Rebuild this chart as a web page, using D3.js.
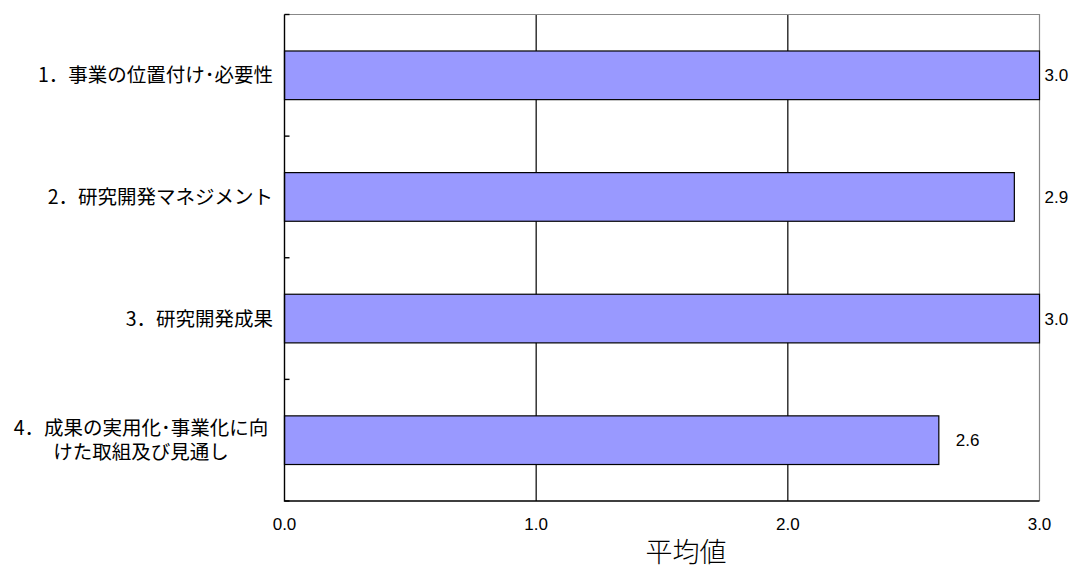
<!DOCTYPE html>
<html><head><meta charset="utf-8">
<script src="https://cdn.jsdelivr.net/npm/d3@7"></script>
<style>body{margin:0;background:#fff}svg{display:block}</style>
</head><body>
<script>
const categories = [
  ["1．事業の位置付け･必要性"],
  ["2．研究開発マネジメント"],
  ["3．研究開発成果"],
  ["4．成果の実用化･事業化に向", "けた取組及び見通し"]
];
const values = [3.0, 2.9, 3.0, 2.6];
const xTicks = [0, 1, 2, 3];
const xTitle = "平均値";

(function () {
const W = 1070, H = 570;
const pL = 284.5, pR = 1039.5, pT = 14.5, pB = 501;
const jp = "'Noto Sans CJK JP','Noto Sans',sans-serif";
const num = "'Liberation Sans',Arial,sans-serif";

const svg = d3.select("body").append("svg").attr("width", W).attr("height", H);
const ids = categories.map((c, i) => i);
const x = d3.scaleLinear().domain([0, 3]).range([pL, pR]);
const y = d3.scaleBand().domain(ids).range([pT, pB]).paddingInner(0.6).paddingOuter(0.3);

// gridlines
svg.append("g").selectAll("line").data(xTicks.filter(t => t > 0 && t < 3)).join("line")
  .attr("x1", d => x(d)).attr("x2", d => x(d)).attr("y1", pT).attr("y2", pB)
  .attr("stroke", "#000").attr("stroke-width", 1.2);

// top & right border (gray)
svg.append("path").attr("d", `M${pL},${pT}H${pR}V${pB}`)
  .attr("fill", "none").attr("stroke", "#888").attr("stroke-width", 1.2);

// bars
svg.append("g").selectAll("rect").data(values).join("rect")
  .attr("x", x(0)).attr("y", (d, i) => y(i))
  .attr("width", d => x(d) - x(0)).attr("height", y.bandwidth())
  .attr("fill", "#9999ff").attr("stroke", "#000").attr("stroke-width", 1.2);

// left & bottom axis lines
svg.append("path").attr("d", `M${pL},${pT}V${pB}H${pR}`)
  .attr("fill", "none").attr("stroke", "#000").attr("stroke-width", 1.4);

// left ticks at band boundaries (inward)
const bounds = d3.range(0, categories.length + 1).map(i => pT + i * (pB - pT) / categories.length);
svg.append("g").selectAll("line").data(bounds).join("line")
  .attr("x1", pL).attr("x2", pL + 5).attr("y1", d => d).attr("y2", d => d)
  .attr("stroke", "#000").attr("stroke-width", 1.4);

// x tick labels
svg.append("g").selectAll("text").data(xTicks).join("text")
  .attr("x", d => x(d)).attr("y", 529.5).attr("text-anchor", "middle")
  .attr("font-family", num).attr("font-size", 17).attr("fill", "#000")
  .text(d => d.toFixed(1));

// category labels
const cg = svg.append("g");
categories.forEach((lines, i) => {
  const cy = y(i) + y.bandwidth() / 2;
  const lh = 24;
  const tx = lines.length > 1 ? 141 : 273;
  lines.forEach((ln, j) => {
    cg.append("text").attr("font-family", jp).attr("font-size", 19.5).attr("fill", "#000")
      .attr("text-anchor", lines.length > 1 ? "middle" : "end")
      .attr("x", tx)
      .attr("y", cy + (j - (lines.length - 1) / 2) * lh)
      .attr("dy", "0.36em").text(ln);
  });
});

// value labels
svg.append("g").selectAll("text").data(values).join("text")
  .attr("x", d => (x(d) + 18 < pR - 20) ? x(d) + 17 : pR + 5)
  .attr("y", (d, i) => y(i) + y.bandwidth() / 2).attr("dy", "0.36em")
  .attr("font-family", num).attr("font-size", 17).attr("fill", "#000")
  .text(d => d.toFixed(1));

// axis title
svg.append("text").attr("x", 686).attr("y", 562).attr("text-anchor", "middle")
  .attr("font-family", jp).attr("font-size", 27).attr("font-weight", 300).attr("fill", "#000")
  .text(xTitle);
})();
</script>
</body></html>
